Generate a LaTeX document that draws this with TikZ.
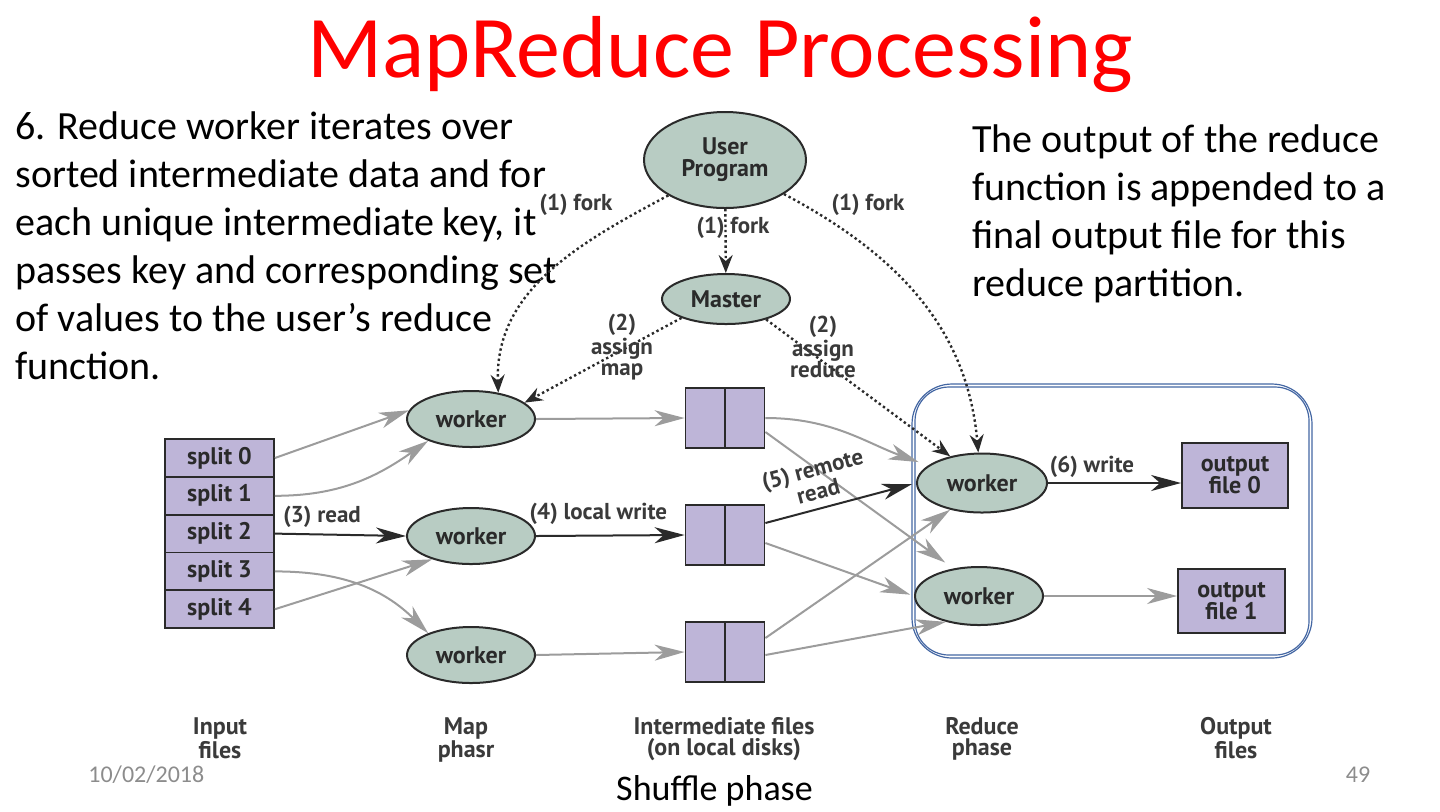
\documentclass[tikz,border=0pt]{standalone}
\usepackage{fontspec}
\setmainfont{Carlito}
\newfontfamily\figfont{PT Sans}
\usetikzlibrary{arrows.meta,shapes.geometric,positioning}
\definecolor{titlered}{HTML}{FF0000}
\definecolor{procfill}{HTML}{B8CCC3}
\definecolor{filefill}{HTML}{BEB5D8}
\definecolor{inkc}{HTML}{2A2A2A}
\definecolor{labelc}{HTML}{3A3A3A}
\definecolor{flowc}{HTML}{9C9C9C}
\definecolor{framec}{HTML}{4467A3}
\definecolor{footc}{HTML}{8C8C8C}

\begin{document}
\begin{tikzpicture}[x=0.5pt,y=-0.5pt,
  proc/.style={ellipse,draw=inkc,line width=1pt,fill=procfill,inner sep=0pt,
    text=inkc,align=center,font=\figfont\bfseries\fontsize{12}{11}\selectfont},
  filebox/.style={rectangle,draw=inkc,line width=0.9pt,fill=filefill,inner sep=0pt,
    text=inkc,align=center,font=\figfont\bfseries\fontsize{12}{11}\selectfont},
  steplbl/.style={text=labelc,align=center,inner sep=0pt,
    font=\figfont\bfseries\fontsize{11.5}{10.5}\selectfont},
  greyflow/.style={draw=flowc,line width=1pt,-{Stealth[length=15pt,width=8pt,inset=4.5pt]}},
  darkflow/.style={draw=inkc,line width=1pt,-{Stealth[length=15pt,width=8pt,inset=4.5pt]}},
  forkflow/.style={draw=inkc,line width=1.2pt,dash pattern=on 1.2pt off 1.4pt,
    -{Stealth[length=9pt,width=7pt,inset=3pt]}},
  phaselbl/.style={text=labelc,align=center,inner sep=0pt,anchor=north,
    font=\figfont\bfseries\fontsize{12}{10.5}\selectfont},
  slidetxt/.style={anchor=base west,inner sep=0pt,font=\fontsize{20}{24}\selectfont},
  foottxt/.style={text=footc,inner sep=0pt,font=\fontsize{12}{12}\selectfont}]
  \useasboundingbox (0,0) rectangle (1440,811);

  % title and notes
  \node[anchor=base,text=titlered,inner sep=0pt,font=\fontsize{44}{44}\selectfont] (title) at (720,77) {MapReduce Processing};
  \foreach \ln [count=\k] in {{6. Reduce worker iterates over},{sorted intermediate data and for},
      {each unique intermediate key, it},{passes key and corresponding set},
      {of values to the user’s reduce},{function.}}
    \node[slidetxt] (note\k) at (15,{139+48*(\k-1)}) {\ln};
  \foreach \ln [count=\k] in {{The output of the reduce},{function is appended to a},
      {final output file for this},{reduce partition.}}
    \node[slidetxt] (side\k) at (972,{152+48*(\k-1)}) {\ln};

  % reduce frame
  \draw[framec,line width=0.6pt,rounded corners=20pt] (912,384) rectangle (1312,658);
  \draw[framec,line width=0.6pt,rounded corners=17pt] (915,387) rectangle (1309,655);

  % nodes
  \node[proc,minimum width=81pt,minimum height=48pt] (user) at (725,160) {User\\Program};
  \node[proc,minimum width=64pt,minimum height=25pt] (master) at (726,299) {Master};
  \foreach \i in {0,...,4}
    \node[filebox,minimum width=54.5pt,minimum height=18.9pt] (split\i) at (219.5,{458+37.8*\i}) {split \i};
  \foreach \i/\yy in {1/419,2/536,3/655}
    \node[proc,minimum width=64pt,minimum height=28pt] (mapw\i) at (471,\yy) {worker};
  \foreach \i/\yy in {1/418,2/535,3/652}{
    \node[filebox,minimum width=39.5pt,minimum height=30pt] (mid\i) at (725,\yy) {};
    \draw[inkc,line width=0.9pt] (mid\i.north) -- (mid\i.south);
  }
  \node[proc,minimum width=65pt,minimum height=29.5pt] (redw1) at (982,483) {worker};
  \node[proc,minimum width=64pt,minimum height=29pt] (redw2) at (979,596) {worker};
  \node[filebox,minimum width=53pt,minimum height=32.5pt] (out0) at (1235,475.5) {output\\file 0};
  \node[filebox,minimum width=53.5pt,minimum height=32pt] (out1) at (1231.5,601) {output\\file 1};

  % fork and assign
  \draw[forkflow] (user) -- (master);
  \node[steplbl] (fork0) at (733,228) {(1) fork};
  \draw[forkflow] (user.212) to[out=208,in=92] (mapw1.44);
  \node[steplbl] (fork1) at (576,205) {(1) fork};
  \draw[forkflow] (user.330) to[out=-28,in=95] (redw1.97);
  \node[steplbl] (fork2) at (868,205) {(1) fork};
  \draw[forkflow] (master.203) -- (mapw1.17);
  \node[steplbl] (assignm) at (622,347) {(2)\\assign\\map};
  \draw[forkflow] (master.333) -- (redw1.140);
  \node[steplbl] (assignr) at (823,347) {(2)\\assign\\reduce};

  % read
  \draw[greyflow] (split0.east) -- (mapw1.172);
  \draw[greyflow] (split1.east) to[out=0,in=215] (mapw1.207);
  \draw[darkflow] (split2.east) -- node[steplbl,pos=0.36,above=3pt] (readlbl) {(3) read} (mapw2.west);
  \draw[greyflow] (split3.east) to[out=0,in=135] (mapw3.153);
  \draw[greyflow] (split4.east) -- (mapw2.211);

  % local write
  \draw[greyflow] (mapw1.east) -- (mid1.west);
  \draw[darkflow] (mapw2.east) -- node[steplbl,pos=0.42,above=5pt] (lwlbl) {(4) local write} (mid2.west);
  \draw[greyflow] (mapw3.east) -- (mid3.west);

  % remote read
  \draw[greyflow,shorten >=5pt] (mid1.east) to[out=0,in=160] (redw1.162);
  \draw[greyflow,shorten >=5pt] ([yshift=-7pt]mid1.east) -- (redw2.133);
  \draw[darkflow,shorten >=2pt] ([yshift=6pt]mid2.east) -- node[steplbl,pos=0.38,sloped,above=4pt,
      font=\figfont\bfseries\fontsize{11.5}{11.5}\selectfont] (rrlbl) {(5) remote\\read} (redw1.west);
  \draw[greyflow,shorten >=2pt] ([yshift=-4pt]mid2.east) -- (redw2.west);
  \draw[greyflow] ([yshift=7pt]mid3.east) -- (redw1.220);
  \draw[greyflow] ([yshift=-1.5pt]mid3.east) -- (redw2.218);

  % write
  \draw[darkflow] (redw1.east) -- node[steplbl,pos=0.33,above=2pt] (wrlbl) {(6) write} (redw1.east -| out0.west);
  \draw[greyflow] (redw2.east) -- (redw2.east -| out1.west);

  % phase labels
  \foreach \nm/\xx/\txt in {inlbl/220/{Input\\files},maplbl/466/{Map\\phasr},
      midlbl/724/{Intermediate files\\(on local disks)},redlbl/982/{Reduce\\phase},outlbl/1236/{Output\\files}}
    \node[phaselbl] (\nm) at (\xx,717) {\txt};

  % footer
  \node[foottxt,anchor=base west] (date) at (88,782) {10/02/2018};
  \node[foottxt,anchor=base] (pgno) at (1358,782) {49};
  \node[anchor=base,inner sep=0pt,font=\fontsize{18}{18}\selectfont] (shuffle) at (714.5,800) {Shuffle phase};
\end{tikzpicture}
\end{document}
